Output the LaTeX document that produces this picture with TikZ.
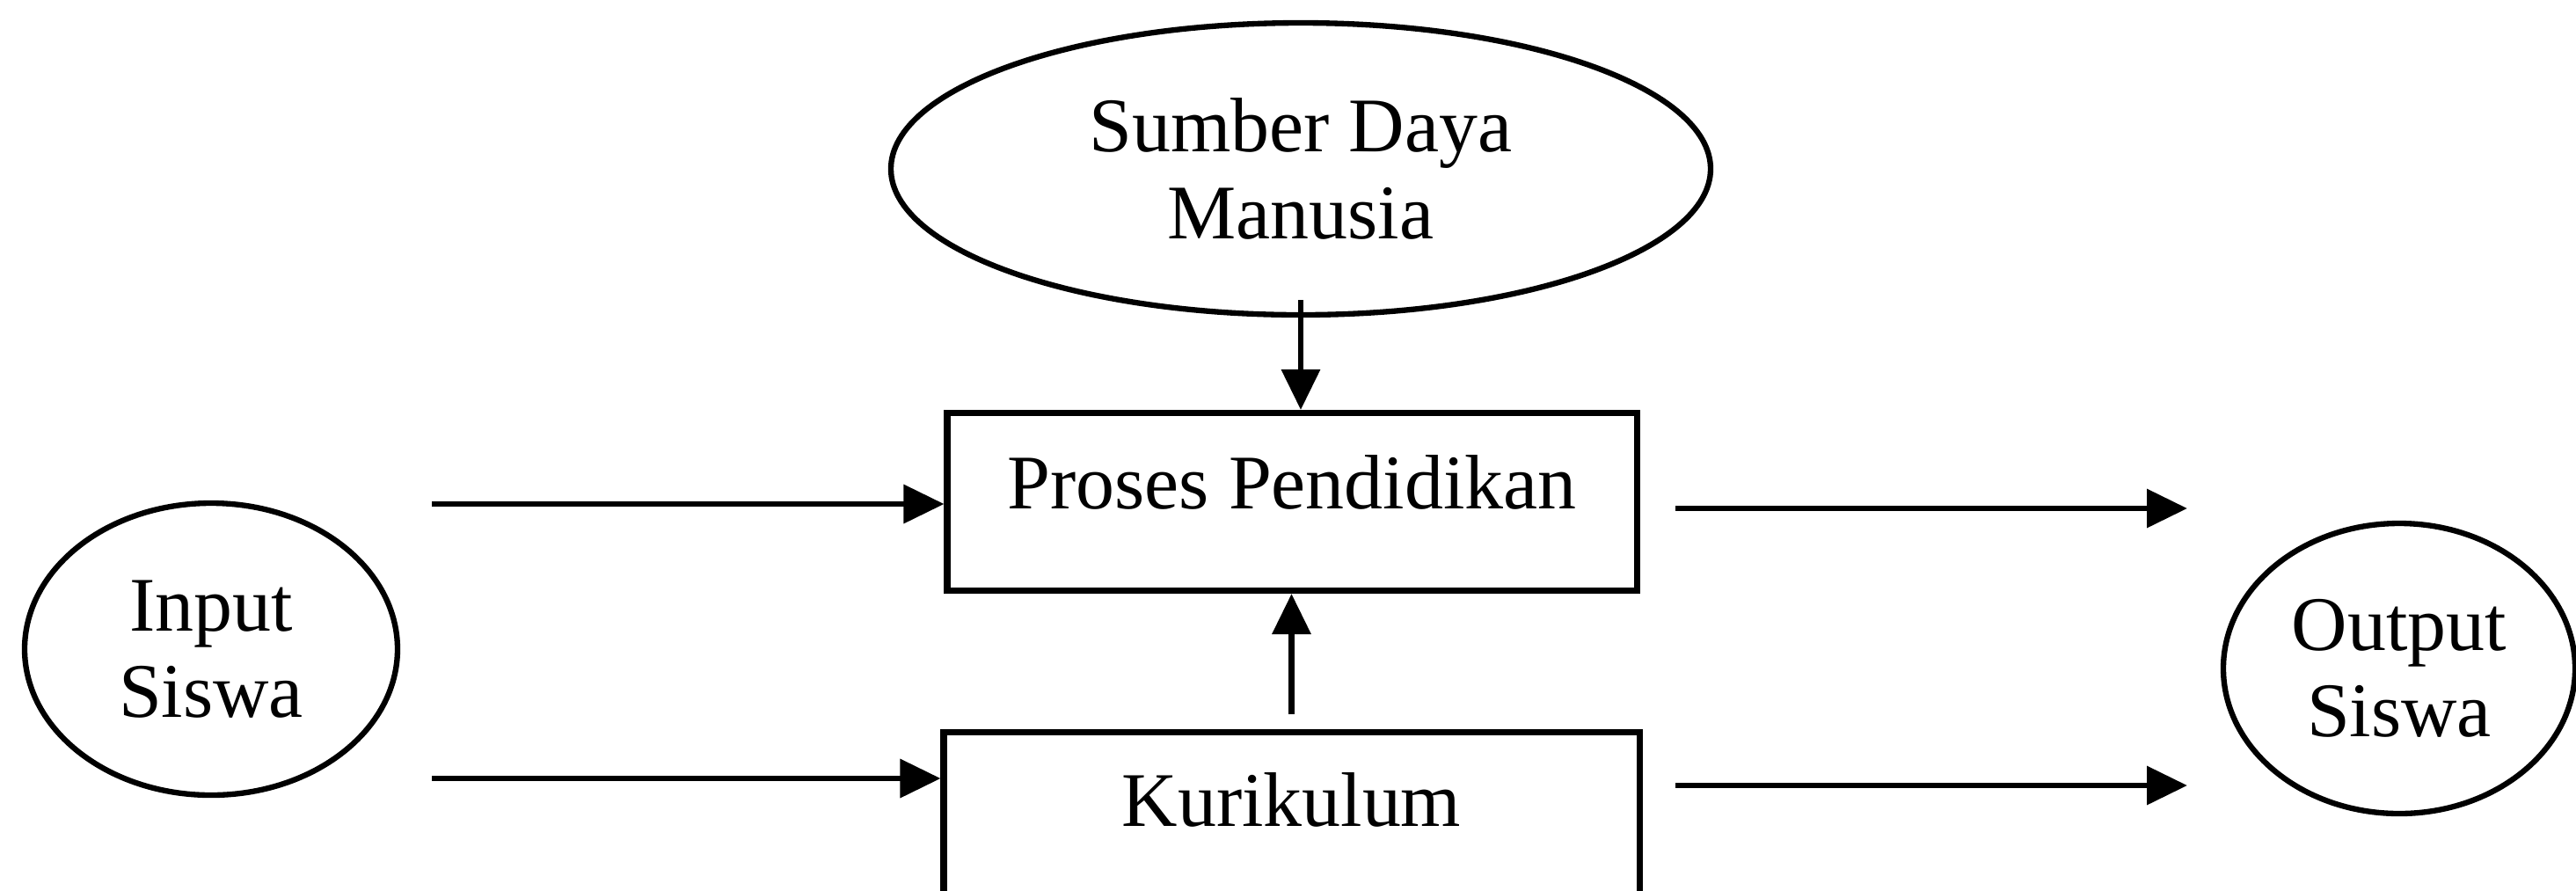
\documentclass[tikz,border=0pt]{standalone}
\usepackage{fontspec}
\setmainfont{Liberation Serif}
\usetikzlibrary{shapes.geometric,arrows.meta}
\begin{document}
\begin{tikzpicture}[
  every node/.style={font=\fontsize{25}{28}\selectfont},
  oval/.style={draw, ellipse, line width=1.8pt, inner sep=0pt, align=center},
  boxnode/.style={draw, rectangle, line width=2pt, inner sep=0pt},
  arr/.style={line width=1.9pt, -{Triangle[length=0.46cm,width=0.43cm]}}
]
\useasboundingbox (0,0) rectangle (29.29,-10.12);
\fill[white] (0,0) rectangle (29.29,-10.12);

% nodes
\node[oval, minimum width=9.32cm, minimum height=3.32cm] (sdm) at (14.79,-1.92) {Sumber Daya\\Manusia};
\node[boxnode, minimum width=7.84cm, text height=1.09cm, text depth=0.93cm, anchor=north] (proses) at (14.69,-4.66) {Proses Pendidikan};
\node[boxnode, minimum width=7.91cm, text height=1.07cm, text depth=0.78cm, anchor=north] (kur) at (14.685,-8.29) {Kurikulum};
\node[oval, minimum width=4.24cm, minimum height=3.32cm] (input) at (2.40,-7.38) {Input\\Siswa};
\node[oval, minimum width=4.00cm, minimum height=3.30cm] (output) at (27.28,-7.60) {Output\\Siswa};

% free ends
\coordinate (inA) at (4.91,-5.73);
\coordinate (inB) at (4.91,-8.85);
\coordinate (outAs) at (19.05,-5.78);
\coordinate (outAe) at (24.87,-5.78);
\coordinate (outBs) at (19.05,-8.93);
\coordinate (outBe) at (24.87,-8.93);

% connectors
\draw[arr] (inA) -- (inA -| proses.west);
\draw[arr] (inB) -- (inB -| kur.west);
\draw[arr] (outAs) -- (outAe);
\draw[arr] (outBs) -- (outBe);
\draw[arr] ([yshift=0.2cm]sdm.south) -- (sdm.south |- proses.north);
\draw[arr, shorten <=0.17cm] (kur.north) -- (kur.north |- proses.south);
\end{tikzpicture}
\end{document}
